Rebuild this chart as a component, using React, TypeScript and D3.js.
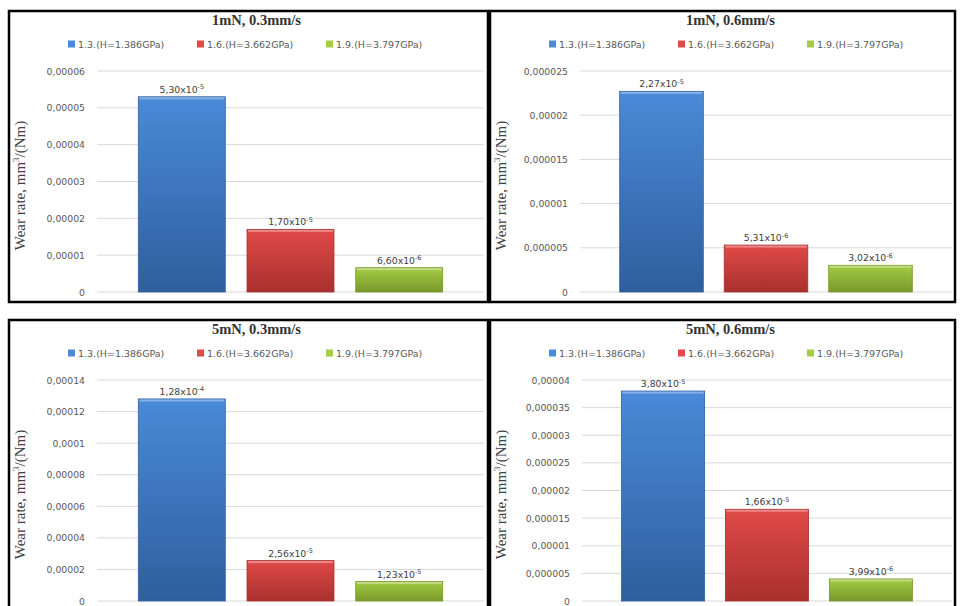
import * as d3 from 'd3';

const series = ["1.3.(H=1.386GPa)", "1.6.(H=3.662GPa)", "1.9.(H=3.797GPa)"];
const titles = ["1mN, 0.3mm/s", "1mN, 0.6mm/s", "5mN, 0.3mm/s", "5mN, 0.6mm/s"];
const values = [
  [5.3e-5, 1.7e-5, 6.6e-6],
  [2.27e-5, 5.31e-6, 3.02e-6],
  [1.28e-4, 2.56e-5, 1.23e-5],
  [3.8e-5, 1.66e-5, 3.99e-6],
];
const labels = [
  [["5,30x10", "-5"], ["1,70x10", "-5"], ["6,60x10", "-6"]],
  [["2,27x10", "-5"], ["5,31x10", "-6"], ["3,02x10", "-6"]],
  [["1,28x10", "-4"], ["2,56x10", "-5"], ["1,23x10", "-5"]],
  [["3,80x10", "-5"], ["1,66x10", "-5"], ["3,99x10", "-6"]],
];
const ticks = [
  ["0", "0.00001", "0.00002", "0.00003", "0.00004", "0.00005", "0.00006"],
  ["0", "0.000005", "0.00001", "0.000015", "0.00002", "0.000025"],
  ["0", "0.00002", "0.00004", "0.00006", "0.00008", "0.0001", "0.00012", "0.00014"],
  ["0", "0.000005", "0.00001", "0.000015", "0.00002", "0.000025", "0.00003", "0.000035", "0.00004"],
];

const colors = [
  ["#4a8ad8", "#2e5f9e"],
  ["#e04a48", "#a8302e"],
  ["#a4cc44", "#78982a"],
];

const panels = [
  { x: 9, y: 11, w: 479, h: 291, left: 97, right: 484 },
  { x: 490, y: 11, w: 465, h: 291, left: 580, right: 952 },
  { x: 9, y: 320, w: 479, h: 300, left: 97, right: 484 },
  { x: 490, y: 320, w: 465, h: 300, left: 582, right: 952 },
];

const Panel = ({ i }: { i: number }) => {
  const p = panels[i];
  const top = p.y + 60;
  const bottom = p.y + 281;
  const tv = ticks[i].map(Number);
  const y = d3.scaleLinear().domain([0, d3.max(tv)!]).range([bottom, top]);
  const x = d3.scaleBand().domain(series).range([p.left, p.right]).paddingInner(0.2).paddingOuter(0.38);
  const cx = p.x + p.w / 2;
  return (
    <g>
      <rect x={p.x} y={p.y} width={p.w} height={p.h} fill="#fff" stroke="#000" strokeWidth={2.5} />
      <text x={cx + 8} y={p.y + 14} textAnchor="middle" fontFamily="Liberation Serif" fontWeight="bold" fontSize={14.5} fill="#333">{titles[i]}</text>
      {series.map((s, k) => (
        <g key={s} transform={`translate(${p.x + 59 + k * 129},${p.y + 36})`}>
          <rect x={0} y={-6.5} width={7} height={7} fill={colors[k][0]} />
          <text x={10} y={1} fontFamily="DejaVu Sans" fontSize={9.5} fill="#595959">{s}</text>
        </g>
      ))}
      {tv.map((t, k) => (
        <g key={k}>
          <line x1={p.left} x2={p.right} y1={y(t)} y2={y(t)} stroke="#d9d9d9" strokeWidth={1} />
          <text x={p.left - 12} y={y(t) + 3.5} textAnchor="end" fontFamily="DejaVu Sans" fontSize={9.3} fill="#595959">{ticks[i][k].replace('.', ',')}</text>
        </g>
      ))}
      <text transform={`translate(${p.x + 16},${(top + bottom) / 2 + 4}) rotate(-90)`} textAnchor="middle" fontFamily="Liberation Serif" fontSize={15} fill="#404040">
        Wear rate, mm<tspan dy={-6} fontSize={9}>3</tspan><tspan dy={6}>/(Nm)</tspan>
      </text>
      {series.map((s, k) => {
        const v = values[i][k];
        const bx = x(s)!;
        const by = y(v);
        return (
          <g key={s}>
            <rect x={bx} y={by} width={x.bandwidth()} height={bottom - by} fill={`url(#g${k})`} stroke={colors[k][1]} strokeWidth={0.8} />
            <rect x={bx + 1} y={by + 0.5} width={x.bandwidth() - 2} height={2} fill="#fff" opacity={0.35} />
            <text x={bx + x.bandwidth() / 2} y={by - 4} textAnchor="middle" fontFamily="DejaVu Sans" fontSize={9.3} fill="#404040">
              {labels[i][k][0]}<tspan dy={-3.5} fontSize={6.5}>{labels[i][k][1]}</tspan>
            </text>
          </g>
        );
      })}
    </g>
  );
};

export default function App() {
  return (
    <svg width={960} height={606} style={{ position: 'absolute', left: 0, top: 0, background: '#fff' }}>
      <defs>
        {colors.map((c, k) => (
          <linearGradient key={k} id={`g${k}`} x1="0" y1="0" x2="0" y2="1">
            <stop offset="0" stopColor={c[0]} />
            <stop offset="1" stopColor={c[1]} />
          </linearGradient>
        ))}
      </defs>
      {panels.map((_, i) => <Panel key={i} i={i} />)}
    </svg>
  );
}
